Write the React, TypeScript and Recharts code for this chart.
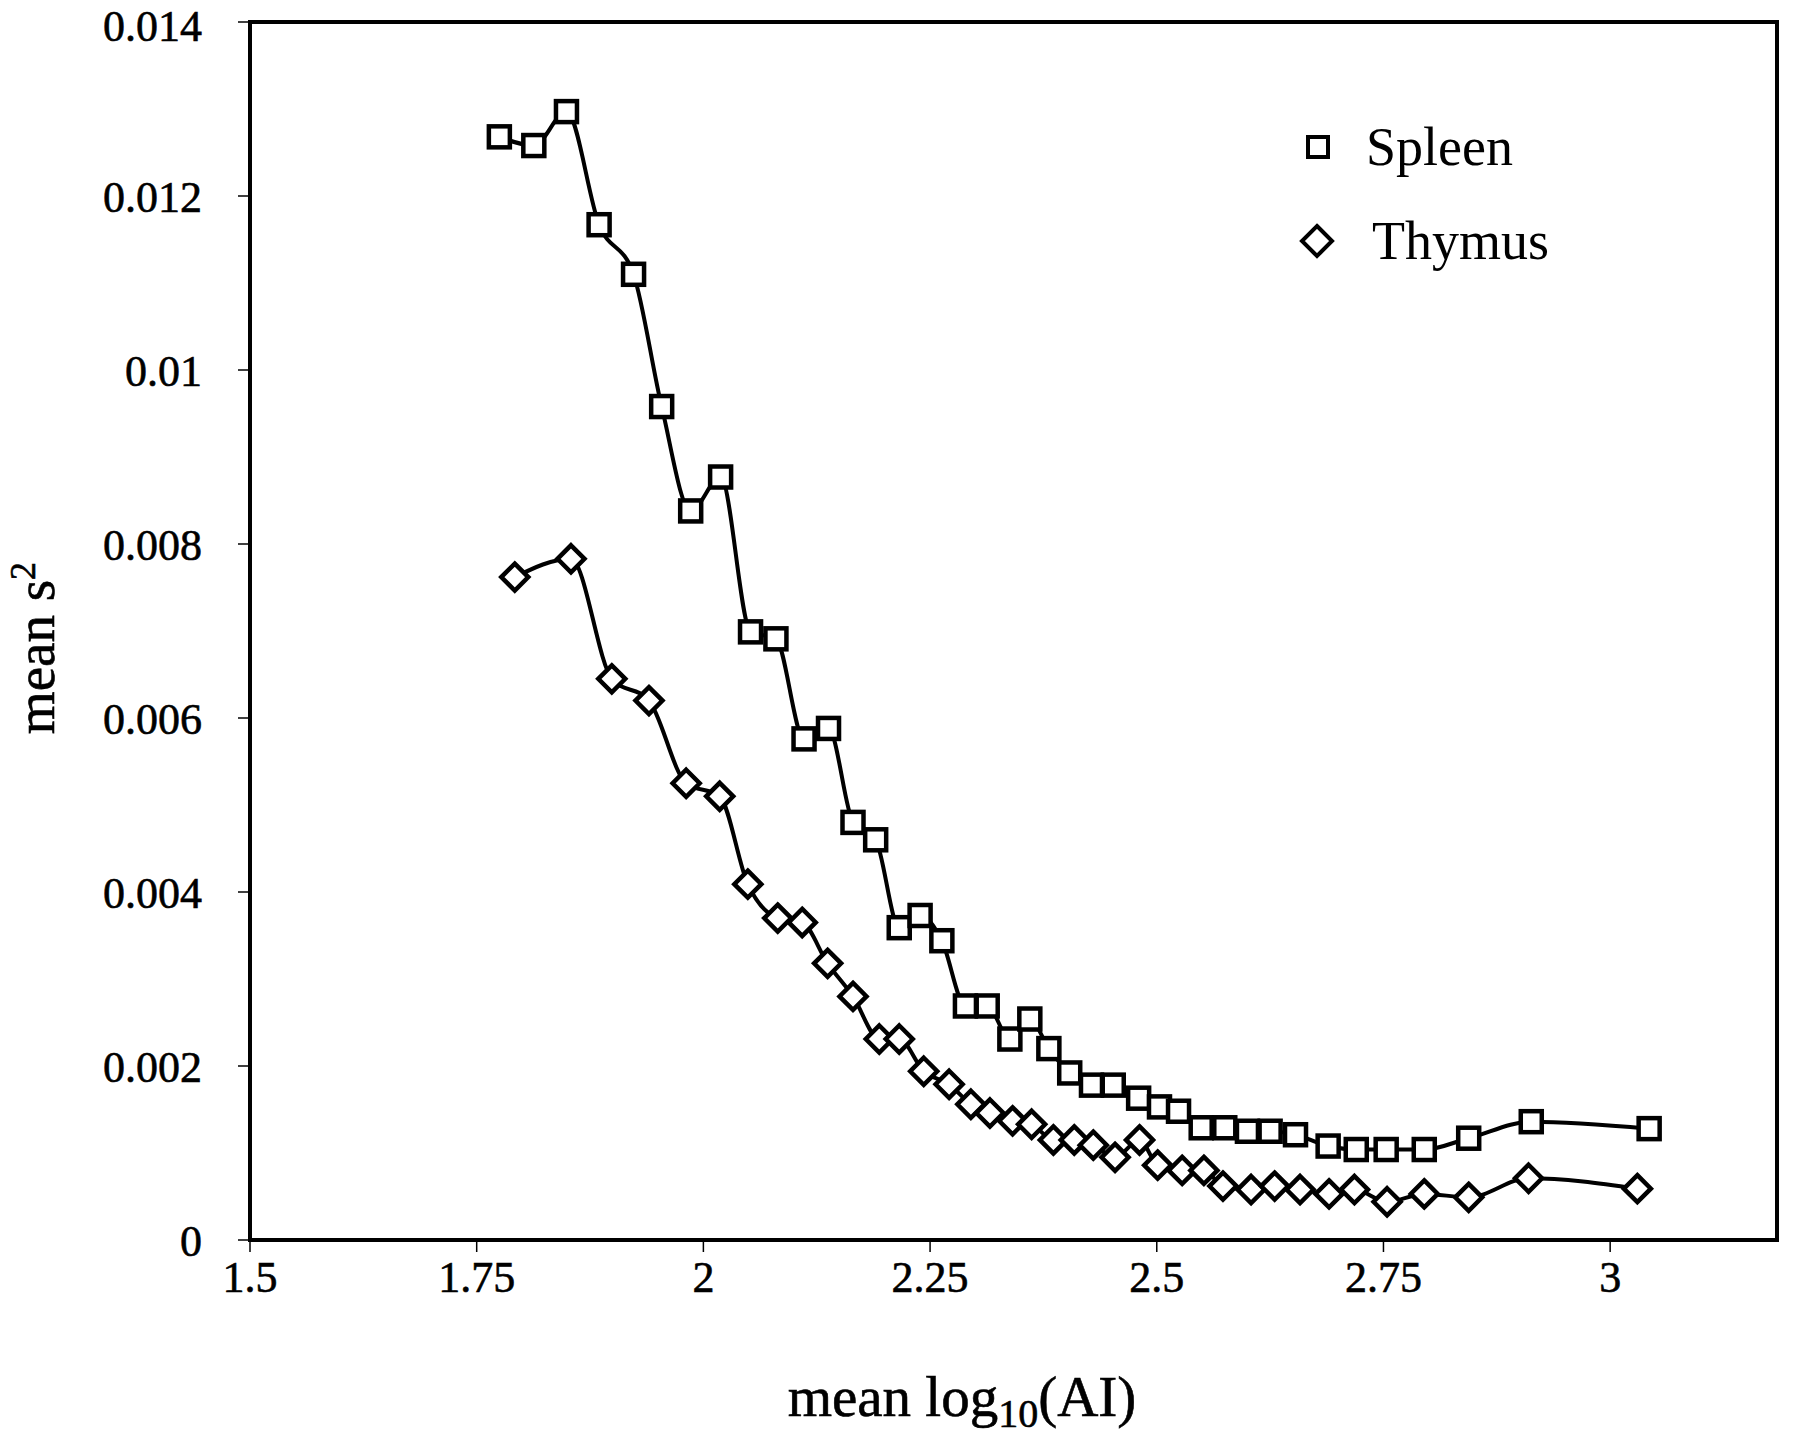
import { Label, Line, LineChart, ReferenceArea, XAxis, YAxis } from 'recharts';

const FONT = '"Liberation Serif", "Times New Roman", serif';

const spleenX = [
  1.775, 1.813, 1.849, 1.885, 1.923, 1.954, 1.986, 2.019, 2.052, 2.08, 2.111, 2.138, 2.165, 2.19, 2.216, 2.239,
  2.263, 2.289, 2.313, 2.338, 2.36, 2.381, 2.404, 2.428, 2.452, 2.48, 2.503, 2.524, 2.549, 2.575, 2.6, 2.625,
  2.653, 2.689, 2.72, 2.753, 2.795, 2.844, 2.913, 3.043,
];
const spleenY = [
  0.01268, 0.01258, 0.01297, 0.01167, 0.0111, 0.00958, 0.00838, 0.00877, 0.00699, 0.00691, 0.00576, 0.00588,
  0.0048, 0.0046, 0.00359, 0.00373, 0.00344, 0.00269, 0.00269, 0.00231, 0.00254, 0.0022, 0.00192, 0.00178,
  0.00178, 0.00163, 0.00153, 0.00148, 0.00129, 0.00129, 0.00125, 0.00125, 0.00121, 0.00108, 0.00104, 0.00104,
  0.00104, 0.00117, 0.00136, 0.00128,
];

const thymusX = [
  1.792, 1.854, 1.899, 1.94, 1.981, 2.018, 2.049, 2.082, 2.109, 2.137, 2.165, 2.194, 2.216, 2.243, 2.271, 2.295,
  2.316, 2.341, 2.362, 2.386, 2.409, 2.43, 2.454, 2.481, 2.501, 2.528, 2.552, 2.573, 2.604, 2.63, 2.658, 2.69,
  2.718, 2.754, 2.795, 2.844, 2.91, 3.03,
];
const thymusY = [
  0.00762, 0.00783, 0.00645, 0.0062, 0.00525, 0.0051, 0.00409, 0.0037, 0.00365, 0.00318, 0.0028, 0.00231,
  0.00231, 0.00194, 0.00179, 0.00156, 0.00146, 0.00137, 0.00133, 0.00115, 0.00115, 0.00109, 0.00095, 0.00115,
  0.00086, 0.0008, 0.0008, 0.00062, 0.00058, 0.00062, 0.00058, 0.00053, 0.00058, 0.00044, 0.00053, 0.00049,
  0.00071, 0.00059,
];

const xTicks = [1.5, 1.75, 2, 2.25, 2.5, 2.75, 3];
const yTicks = [0, 0.002, 0.004, 0.006, 0.008, 0.01, 0.012, 0.014];
const X_MAX = 3.184;

const spleen = spleenX.map((x, i) => ({ x, y: spleenY[i] }));
const thymus = thymusX.map((x, i) => ({ x, y: thymusY[i] }));

const SQ = 10.5;
const DM = 13.5;

const squareDot = (p: any) => (
  <rect
    key={`sq-${p.index}`}
    x={p.cx - SQ}
    y={p.cy - SQ}
    width={SQ * 2}
    height={SQ * 2}
    fill="#fff"
    stroke="#000"
    strokeWidth={4.5}
  />
);

const diamondDot = (p: any) => (
  <path
    key={`dm-${p.index}`}
    d={`M${p.cx},${p.cy - DM}L${p.cx + DM},${p.cy}L${p.cx},${p.cy + DM}L${p.cx - DM},${p.cy}Z`}
    fill="#fff"
    stroke="#000"
    strokeWidth={4.5}
  />
);

const textStroke = { stroke: '#000', strokeWidth: 0.6 };

function LegendBox() {
  const row = { display: 'flex', alignItems: 'center', height: 94, fontFamily: FONT, fontSize: 54, color: '#000' };
  return (
    <div style={{ position: 'absolute', top: 100, left: 1294, width: 300 }}>
      <div style={row}>
        <svg width={50} height={40}>
          <rect x={14} y={10} width={20} height={20} fill="#fff" stroke="#000" strokeWidth={4} />
        </svg>
        <span style={{ marginLeft: 22 }}>Spleen</span>
      </div>
      <div style={row}>
        <svg width={50} height={40}>
          <path d="M23,5L38,20L23,35L8,20Z" fill="#fff" stroke="#000" strokeWidth={4} />
        </svg>
        <span style={{ marginLeft: 28 }}>Thymus</span>
      </div>
    </div>
  );
}

export default function App() {
  return (
    <div style={{ position: 'absolute', left: 0, top: 0, width: 1800, height: 1439, background: '#fff' }}>
      <LineChart width={1800} height={1439} margin={{ top: 22, right: 23, left: 50, bottom: 49 }}>
        <XAxis
          type="number"
          dataKey="x"
          domain={[1.5, X_MAX]}
          ticks={xTicks}
          allowDataOverflow
          height={150}
          axisLine={{ stroke: '#000', strokeWidth: 4 }}
          tickLine={{ stroke: '#000', strokeWidth: 1.5 }}
          tickSize={12}
          tickMargin={9}
          tick={{ fill: '#000', fontFamily: FONT, fontSize: 44, ...textStroke }}
        >
          <Label
            content={() => (
              <text x={962} y={1416} textAnchor="middle" fontFamily={FONT} fontSize={57} fill="#000" {...textStroke}>
                mean log
                <tspan fontSize={40} dy={11}>10</tspan>
                <tspan dy={-11}>(AI)</tspan>
              </text>
            )}
          />
        </XAxis>
        <YAxis
          type="number"
          domain={[0, 0.014]}
          ticks={yTicks}
          width={200}
          axisLine={{ stroke: '#000', strokeWidth: 4 }}
          tickLine={{ stroke: '#000', strokeWidth: 1.5 }}
          tickSize={12}
          tickMargin={36}
          tickFormatter={(v: number) => String(+v.toFixed(3))}
          tick={{ fill: '#000', fontFamily: FONT, fontSize: 44, ...textStroke }}
        >
          <Label
            content={() => (
              <text
                x={0}
                y={0}
                transform="translate(54,648) rotate(-90)"
                textAnchor="middle"
                fontFamily={FONT}
                fontSize={55}
                fill="#000"
                {...textStroke}
              >
                mean s
                <tspan fontSize={36} dy={-19}>2</tspan>
              </text>
            )}
          />
        </YAxis>
        <ReferenceArea x1={1.5} x2={X_MAX} y1={0} y2={0.014} fill="none" stroke="#000" strokeWidth={4} />
        <Line
          data={spleen}
          dataKey="y"
          type="monotone"
          stroke="#000"
          strokeWidth={4}
          dot={squareDot}
          isAnimationActive={false}
        />
        <Line
          data={thymus}
          dataKey="y"
          type="monotone"
          stroke="#000"
          strokeWidth={4}
          dot={diamondDot}
          isAnimationActive={false}
        />
      </LineChart>
      <LegendBox />
    </div>
  );
}
